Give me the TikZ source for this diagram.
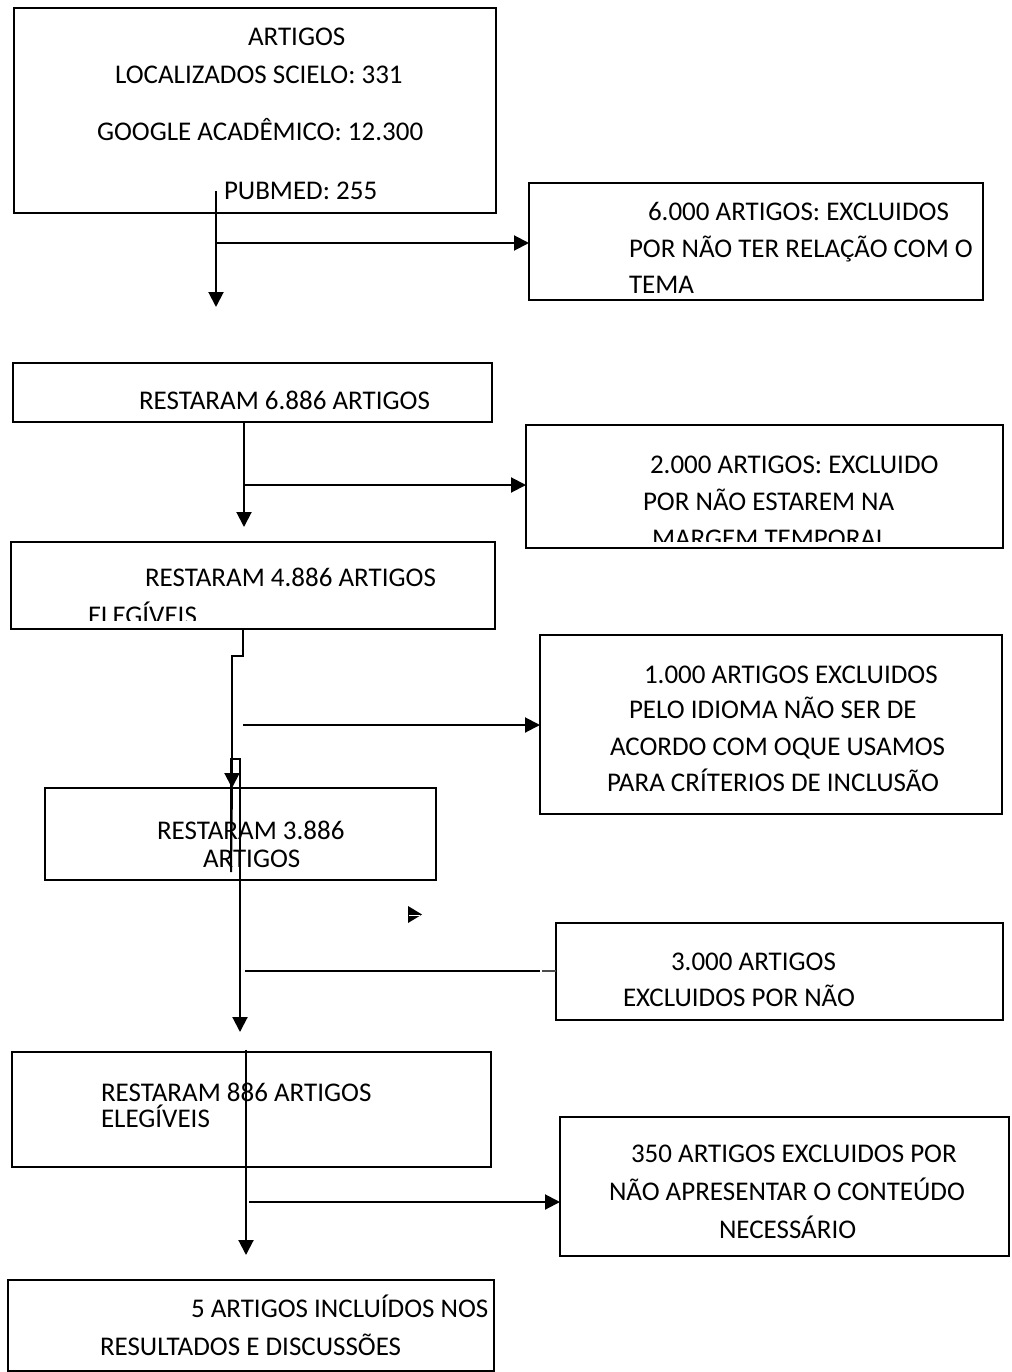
\documentclass[tikz,border=0pt]{standalone}
\usepackage{fontspec}
\setmainfont{Carlito}
\usetikzlibrary{arrows.meta}
\begin{document}
\begin{tikzpicture}[x=1pt,y=-1pt,
  box/.style={draw=black,line width=2.7pt,inner sep=0pt,outer sep=0pt,anchor=north west},
  txt/.style={anchor=base west,inner sep=0pt,outer sep=0pt,font=\fontsize{27}{31}\selectfont},
  conn/.style={line width=2pt},
  arr/.style={conn,-{Triangle[length=15pt,width=15pt]}}]
\useasboundingbox (0,0) rectangle (1011,1372);
% boxes
\node[box,minimum width=482pt,minimum height=205pt] (b1) at (14,8) {};
\node[box,minimum width=454pt,minimum height=117pt] (b2) at (529,183) {};
\node[box,minimum width=479pt,minimum height=59pt] (b3) at (13,363) {};
\node[box,minimum width=477pt,minimum height=123pt] (b4) at (526,425) {};
\node[box,minimum width=484pt,minimum height=87pt] (b5) at (11,542) {};
\node[box,minimum width=462pt,minimum height=179pt] (b6) at (540,635) {};
\node[box,minimum width=391pt,minimum height=92pt] (b7) at (45,788) {};
\node[box,minimum width=447pt,minimum height=97pt] (b8) at (556,923) {};
\node[box,minimum width=479pt,minimum height=115pt] (b9) at (12,1052) {};
\node[box,minimum width=449pt,minimum height=139pt] (b10) at (560,1117) {};
\node[box,minimum width=486pt,minimum height=91pt] (b11) at (8,1280) {};
% texts
\node[txt] (t1a) at (248,46) {ARTIGOS};
\node[txt] (t1b) at (115,84) {LOCALIZADOS SCIELO: 331};
\node[txt] (t1c) at (97,141) {GOOGLE ACADÊMICO: 12.300};
\node[txt] (t1d) at (224,200) {PUBMED: 255};
\node[txt] (t2a) at (648,221) {6.000 ARTIGOS: EXCLUIDOS};
\node[txt] (t2b) at (629,258) {POR NÃO TER RELAÇÃO COM O};
\node[txt] (t2c) at (629,293) {TEMA};
\node[txt] (t3a) at (139,409) {RESTARAM 6.886 ARTIGOS};
\node[txt] (t4a) at (650,473) {2.000 ARTIGOS: EXCLUIDO};
\node[txt] (t4b) at (643,510) {POR NÃO ESTAREM NA};
\begin{scope}
\clip (526,425) rectangle (1003,541);
\node[txt] (t4c) at (652,547) {MARGEM TEMPORAL};
\end{scope}
\node[txt] (t5a) at (145,586) {RESTARAM 4.886 ARTIGOS};
\begin{scope}
\clip (11,542) rectangle (495,620);
\node[txt] (t5b) at (88,624) {ELEGÍVEIS};
\end{scope}
\node[txt] (t6a) at (644,683) {1.000 ARTIGOS EXCLUIDOS};
\node[txt] (t6b) at (629,718) {PELO IDIOMA NÃO SER DE};
\node[txt] (t6c) at (610,755) {ACORDO COM OQUE USAMOS};
\node[txt] (t6d) at (607,791) {PARA CRÍTERIOS DE INCLUSÃO};
\node[txt] (t7a) at (157,839) {RESTARAM 3.886};
\node[txt] (t7b) at (203,867) {ARTIGOS};
\node[txt] (t8a) at (671,970) {3.000 ARTIGOS};
\node[txt] (t8b) at (623,1006) {EXCLUIDOS POR NÃO};
\node[txt] (t9a) at (101,1101) {RESTARAM 886 ARTIGOS};
\node[txt] (t9b) at (101,1127) {ELEGÍVEIS};
\node[txt] (t10a) at (631,1162) {350 ARTIGOS EXCLUIDOS POR};
\node[txt] (t10b) at (609,1200) {NÃO APRESENTAR O CONTEÚDO};
\node[txt] (t10c) at (719,1238) {NECESSÁRIO};
\node[txt] (t11a) at (191,1317) {5 ARTIGOS INCLUÍDOS NOS};
\node[txt] (t11b) at (100,1355) {RESULTADOS E DISCUSSÕES};
% connector coordinates
\coordinate (c1s) at (216,191);
\coordinate (c1e) at (216,307);
\coordinate (c1m) at (216,243);
\coordinate (c3s) at (244,422);
\coordinate (c3e) at (244,527);
\coordinate (c3m) at (244,485);
\coordinate (c4s) at (243,629);
\coordinate (c4a) at (243,656);
\coordinate (c4b) at (232,656);
\coordinate (c4e) at (232,788);
\coordinate (c5s) at (231,872);
\coordinate (c5a) at (231,759);
\coordinate (c5b) at (240,759);
\coordinate (c5e) at (240,1032);
\coordinate (c6s) at (243,725);
\coordinate (c7s) at (245,971);
\coordinate (c7e) at (540,971);
\coordinate (c7d) at (542,971);
\coordinate (c8s) at (246,1050);
\coordinate (c8e) at (246,1255);
\coordinate (c9s) at (249,1202);
% connectors
\draw[arr] (c1s) -- (c1e);
\draw[arr] (c1m) -- (c1m -| b2.west);
\draw[arr] (c3s) -- (c3e);
\draw[arr] (c3m) -- (c3m -| b4.west);
\draw[arr] (c4s) -- (c4a) -- (c4b) -- (c4e);
\draw[conn] (c4e) -- (c5s);
\draw[arr] (c5s) -- (c5a) -- (c5b) -- (c5e);
\draw[arr] (c6s) -- (c6s -| b6.west);
\draw[conn] (c7s) -- (c7e);
\draw[line width=1.6pt,black!70] (c7d) -- (c7d -| b8.west);
\draw[arr] (c8s) -- (c8e);
\draw[arr] (c9s) -- (c9s -| b10.west);
% stray arrowhead
\coordinate (s1) at (408,906);
\coordinate (s2) at (422,914.5);
\coordinate (s3) at (408,923);
\fill[black] (s1) -- (s2) -- (s3) -- cycle;
\draw[white,line width=0.9pt] (409,915) -- (420,915);
\end{tikzpicture}
\end{document}
